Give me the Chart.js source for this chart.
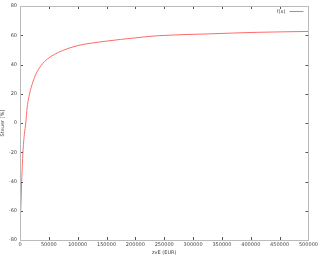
<!DOCTYPE html>
<html>
<head>
<meta charset="utf-8">
<script src="https://cdn.jsdelivr.net/npm/chart.js@4"></script>
<style>
  html, body { margin: 0; padding: 0; background: #fff; }
  #wrap { width: 320px; height: 256px; }
</style>
</head>
<body>
<div id="wrap"><canvas id="chart"></canvas></div>
<script>
// income (EUR) and tax rate (%)
const income = [0, 1200, 2900, 5100, 7500, 10000, 12500, 16600, 22300, 27900, 36500, 47900, 59400, 73600, 100000, 148400, 199700, 239700, 325300, 410900, 500000];
const rate = [-63, -60, -40, -20, -8, 0, 11, 20, 28, 33.7, 39.3, 43.9, 46.8, 49.5, 52.9, 55.9, 58.2, 59.7, 60.9, 62.0, 62.6];
const seriesLabel = 'f(x)';
const xTitle = 'zvE (EUR)';
const yTitle = 'Steuer [%]';

const points = income.map((x, i) => ({ x: x, y: rate[i] }));

// gnuplot-like frame with inward ticks on all four sides, plus key
const framePlugin = {
  id: 'frame',
  afterDatasetsDraw(chart) {
    const ctx = chart.ctx;
    const a = chart.chartArea;
    const xs = chart.scales.x;
    const ys = chart.scales.y;
    ctx.save();
    ctx.strokeStyle = '#555';
    ctx.lineWidth = 1;
    ctx.beginPath();
    xs.ticks.forEach(t => {
      const px = Math.round(xs.getPixelForValue(t.value)) + 0.5;
      ctx.moveTo(px, a.bottom); ctx.lineTo(px, a.bottom - 3);
      ctx.moveTo(px, a.top); ctx.lineTo(px, a.top + 3);
    });
    ys.ticks.forEach(t => {
      const py = Math.round(ys.getPixelForValue(t.value)) + 0.5;
      ctx.moveTo(a.left, py); ctx.lineTo(a.left + 3, py);
      ctx.moveTo(a.right, py); ctx.lineTo(a.right - 3, py);
    });
    ctx.stroke();
    ctx.strokeStyle = '#bbb';
    ctx.strokeRect(Math.round(a.left) + 0.5, Math.round(a.top) + 0.5,
      Math.round(a.right - a.left), Math.round(a.bottom - a.top));

    // key in the top right corner
    const ds = chart.data.datasets[0];
    const ky = Math.round(a.top + 5) + 0.5;
    ctx.strokeStyle = ds.borderColor;
    ctx.beginPath();
    ctx.moveTo(a.right - 19, ky);
    ctx.lineTo(a.right - 5, ky);
    ctx.stroke();
    ctx.fillStyle = '#444';
    ctx.font = '5px "DejaVu Sans"';
    ctx.textAlign = 'right';
    ctx.textBaseline = 'middle';
    ctx.fillText(ds.label, a.right - 23, ky);
    ctx.restore();
  }
};

new Chart(document.getElementById('chart'), {
  type: 'line',
  data: {
    datasets: [{
      label: seriesLabel,
      data: points,
      borderColor: '#ff6a6a',
      backgroundColor: '#ff6a6a',
      borderWidth: 1,
      pointRadius: 0,
      cubicInterpolationMode: 'monotone',
      fill: false
    }]
  },
  options: {
    responsive: true,
    maintainAspectRatio: false,
    animation: false,
    layout: { padding: { top: 5, right: 8, left: 0, bottom: 0 } },
    plugins: {
      legend: { display: false },
      tooltip: { enabled: false }
    },
    scales: {
      x: {
        type: 'linear',
        min: 0,
        max: 500000,
        ticks: {
          stepSize: 50000,
          maxRotation: 0,
          autoSkip: false,
          padding: 2,
          color: '#444',
          font: { family: 'DejaVu Sans', size: 5 },
          callback: v => String(v)
        },
        grid: { display: false, drawTicks: false },
        border: { display: false },
        title: {
          display: true,
          text: xTitle,
          color: '#444',
          font: { family: 'DejaVu Sans', size: 5 },
          padding: { top: 1, bottom: 0 }
        },
        afterFit(scale) { scale.height = 16; }
      },
      y: {
        min: -80,
        max: 80,
        ticks: {
          stepSize: 20,
          padding: 3,
          color: '#444',
          font: { family: 'DejaVu Sans', size: 5 }
        },
        grid: { display: false, drawTicks: false },
        border: { display: false },
        title: {
          display: true,
          text: yTitle,
          color: '#444',
          font: { family: 'DejaVu Sans', size: 5 },
          padding: { top: 0, bottom: 0 }
        },
        afterFit(scale) { scale.width = 20; }
      }
    }
  },
  plugins: [framePlugin]
});
</script>
</body>
</html>
